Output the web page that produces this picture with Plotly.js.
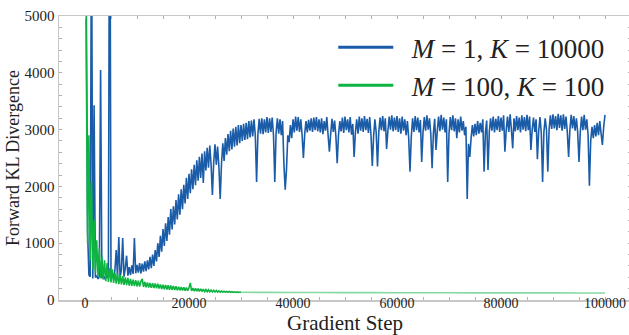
<!DOCTYPE html>
<html>
<head>
<meta charset="utf-8">
<script src="https://cdn.plot.ly/plotly-3.0.1.min.js"></script>
<style>
html,body{margin:0;padding:0;overflow:hidden;background:#fff;width:629px;height:335px;}
#chart{width:631px;height:335px;}
</style>
</head>
<body>
<div id="chart"></div>
<script>
// Sampling interval (gradient steps) of the noisy part of both series
const stepSize = 250;
const lateStepSize = 5000;

// M = 1, K = 10000 (values every 250 steps, 0 .. 100000)
const blueValues = [
  // 0 - 4750
  9500, 5200, 1200, 440, 410, 7000, 380, 3430, 395, 430, 370, 415, 4050, 385, 440, 365, 420, 390, 460, 9000,
  // 5000 - 12750
  400, 470, 380, 520, 880, 420, 1110, 400, 530, 1090, 410, 560, 780, 430, 580, 440, 610, 460, 1090, 470,
  620, 480, 650, 470, 640, 500, 680, 510, 700, 540, 760, 560,
  // 13000 - 29750
  800, 600, 880, 680, 1000, 760, 1130, 850, 1250, 950, 1350, 1040, 1460, 1150, 1600, 1240, 1650, 1330, 1760, 1420,
  1860, 1500, 1950, 1600, 2030, 1700, 2150, 1780, 2220, 1880, 2300, 1950, 2380, 2020, 2460, 2100, 2520, 2150, 2580, 2060,
  2620, 2280, 2680, 2330, 2720, 2380, 1850, 2420, 2740, 2380, 2700, 2350, 1780, 2400, 2760, 2450, 2850, 2560, 2920, 2620,
  2980, 2650, 3020, 2700, 3050, 2720, 3080, 2760,
  // 30000 - 44750
  3080, 2800, 3100, 2820, 3120, 2830, 3150, 2860, 3160, 2880, 3180, 2900, 2080, 2920, 3190, 2930, 3200, 2920, 3180, 2950,
  3220, 2940, 3200, 2960, 3210, 2900, 2080, 2950, 3200, 2930, 3180, 2900, 3150, 2400, 1940, 2300, 2900, 2780, 3080, 2850,
  3180, 2950, 3230, 2980, 3220, 2960, 3180, 2900, 2500, 2920, 3150, 2950, 3170, 2980, 3200, 2960, 3210, 2990, 3220, 2970,
  // 45000 - 49750
  3180, 2950, 3200, 2920, 3150, 2980, 3220, 2900, 2610, 2930, 3190, 2960, 3160, 2880, 2410, 2900, 3150, 2970, 3210, 2940,
  // 50000 - 54750
  3230, 2990, 3180, 2950, 3220, 2910, 3100, 2520, 2950, 3180, 2930, 3230, 2980, 3200, 2960, 3240, 2990, 3190, 2940, 3220,
  // 55000 - 59750
  2900, 2360, 2880, 3180, 2950, 2350, 2960, 3210, 2990, 3240, 2970, 3200, 2660, 2980, 3230, 3000, 3250, 2970, 3210, 2990,
  // 60000 - 64750
  3240, 2960, 3200, 2930, 3230, 2980, 3180, 2900, 3150, 2850, 2260, 2880, 3200, 2960, 3240, 2990, 3210, 2950, 3170, 2430,
  // 65000 - 69750
  2950, 3220, 2980, 3250, 3000, 3200, 2920, 2320, 2940, 3190, 2640, 2980, 3230, 2970, 3260, 3000, 3210, 2950, 3180, 2080,
  // 70000 - 74750
  2930, 3220, 2990, 3250, 2970, 3200, 2850, 3180, 2950, 3230, 2980, 3150, 2900, 3050, 1780, 2750, 2520, 2850, 3080, 2880,
  // 75000 - 79750
  3100, 2900, 3150, 2930, 3120, 2950, 3180, 2260, 2950, 3160, 2290, 2960, 3200, 2980, 3230, 2950, 3190, 2990, 3240, 2960,
  // 80000 - 84750
  3210, 2980, 3250, 2610, 2990, 3230, 2960, 3270, 3000, 2670, 3200, 2970, 3240, 2990, 3210, 2950, 3250, 3000, 3220, 2970,
  // 85000 - 89750
  3260, 2990, 3230, 2640, 3000, 3210, 2960, 3180, 2480, 2980, 3220, 2940, 2080, 2960, 3200, 2990, 2260, 3000, 3250, 3010,
  // 90000 - 94750
  3270, 3020, 3240, 2990, 3280, 3030, 3250, 2980, 3270, 3010, 3230, 2960, 2520, 3000, 3260, 3020, 3240, 2980, 3200, 2950,
  // 95000 - 100000
  2430, 2960, 3230, 2990, 3260, 3000, 3180, 2900, 2010, 2800, 3050, 2850, 3080, 2880, 3120, 2900, 3150, 2930, 2730, 3050,
  3260
];

// M = 100, K = 100: noisy part every 250 steps (0 .. 29750)
const greenEarly = [
  9000, 4200, 1000, 2900, 700, 2080, 550, 1400, 480, 1050, 420, 900, 380, 750, 360, 700, 330, 650, 320, 560,
  310, 540, 300, 480, 290, 470, 280, 440, 275, 420, 265, 400, 260, 390, 255, 370, 250, 360, 245, 350,
  240, 340, 235, 330, 370, 230, 320, 225, 310, 220, 300, 215, 295, 210, 290, 205, 285, 200, 275, 195,
  270, 190, 265, 185, 260, 182, 255, 178, 245, 175, 240, 172, 235, 170, 230, 168, 225, 165, 220, 162,
  215, 300, 160, 210, 158, 205, 155, 200, 153, 195, 150, 190, 148, 185, 146, 180, 144, 175, 142, 170,
  141, 166, 140, 162, 139, 158, 138, 155, 137, 152, 136, 149, 135, 146, 135, 144, 134, 142, 133, 140
];
// smooth part every 5000 steps (30000 .. 100000)
const greenLate = [136, 134, 132, 131, 130, 129, 128, 127, 127, 126, 126, 125, 125, 124, 124];

const legendNames = ['&nbsp;&nbsp;<i>M</i> = 1, <i>K</i> = 10000', '&nbsp;&nbsp;<i>M</i> = 100, <i>K</i> = 100'];
const xTickVals = [0, 20000, 40000, 60000, 80000, 100000];
const yTickVals = [0, 1000, 2000, 3000, 4000, 5000];

const blueSteps = blueValues.map((_, i) => i * stepSize);
const greenEarlySteps = greenEarly.map((_, i) => i * stepSize);
const greenLateSteps = greenLate.map((_, i) => greenEarly.length * stepSize + i * lateStepSize);

const serif = "'Liberation Serif', 'DejaVu Serif', serif";
const blue = '#1b5ca8';
const green = '#0db540';
const greenLight = '#86d9a0';

const traces = [
  {x: blueSteps, y: blueValues, type: 'scatter', mode: 'lines', showlegend: false,
   line: {color: blue, width: 1.6, simplify: false}},
  {x: greenEarlySteps.concat(greenLateSteps.slice(0, 1)), y: greenEarly.concat(greenLate.slice(0, 1)),
   type: 'scatter', mode: 'lines', showlegend: false,
   line: {color: green, width: 1.6, simplify: false}},
  {x: greenLateSteps, y: greenLate, type: 'scatter', mode: 'lines', showlegend: false,
   line: {color: greenLight, width: 1.6, simplify: false}},
  // legend entries (thicker sample lines, no data drawn)
  {x: [null], y: [null], type: 'scatter', mode: 'lines', name: legendNames[0],
   line: {color: blue, width: 3}},
  {x: [null], y: [null], type: 'scatter', mode: 'lines', name: legendNames[1],
   line: {color: green, width: 3}}
];

const axisCommon = {
  showgrid: false, zeroline: false, showline: true, linecolor: '#c8c8c8', linewidth: 1.5,
  mirror: 'ticks', ticks: 'inside', ticklen: 3, tickcolor: '#b0b0b0', tickwidth: 1,
  tickfont: {family: serif, size: 15, color: '#222'}
};

const layout = {
  width: 631, height: 335,
  margin: {l: 59, r: 0, t: 16, b: 35},
  paper_bgcolor: '#fff', plot_bgcolor: '#fff',
  showlegend: true,
  legend: {x: 0.962, xanchor: 'right', y: 0.975, yanchor: 'top', bgcolor: 'rgba(0,0,0,0)',
           font: {family: serif, size: 27, color: '#222'}, itemwidth: 55, tracegroupgap: 0},
  xaxis: Object.assign({}, axisCommon, {
    range: [-5000, 105000], tickvals: xTickVals, ticktext: xTickVals.map(String),
    tickfont: {family: serif, size: 14, color: '#222'},
    ticklabelstandoff: -10,
    minor: {dtick: 5000, ticks: 'inside', ticklen: 3, tickcolor: '#b0b0b0'},
    title: {text: 'Gradient Step', font: {family: serif, size: 21, color: '#222'}, standoff: 6}
  }),
  yaxis: Object.assign({}, axisCommon, {
    range: [0, 5000], tickvals: yTickVals, ticktext: yTickVals.map(String),
    minor: {dtick: 200, ticks: 'inside', ticklen: 3, tickcolor: '#b0b0b0'},
    title: {text: 'Forward KL Divergence', font: {family: serif, size: 18, color: '#222'}, standoff: 0}
  })
};

Plotly.newPlot('chart', traces, layout, {staticPlot: true, displayModeBar: false});
</script>
</body>
</html>
